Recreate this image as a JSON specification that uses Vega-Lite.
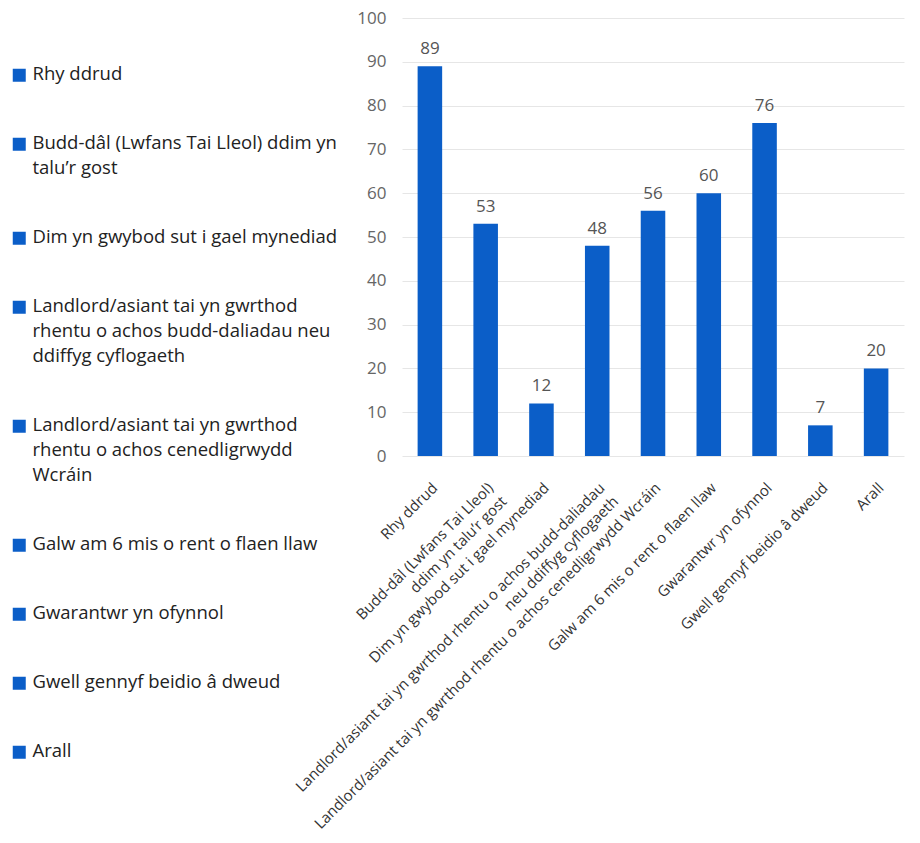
{
  "$schema": "https://vega.github.io/schema/vega-lite/v6.json",
  "width": 502,
  "height": 438,
  "padding": {"left": 10, "top": 9, "right": 10, "bottom": 5},
  "background": "white",
  "config": {
    "view": {"stroke": null},
    "font": "Open Sans"
  },
  "data": {
    "values": [
      {"category": "Rhy ddrud", "value": 89},
      {"category": "Budd-dâl (Lwfans Tai Lleol) ddim yn talu’r gost", "value": 53},
      {"category": "Dim yn gwybod sut i gael mynediad", "value": 12},
      {"category": "Landlord/asiant tai yn gwrthod rhentu o achos budd-daliadau neu ddiffyg cyflogaeth", "value": 48},
      {"category": "Landlord/asiant tai yn gwrthod rhentu o achos cenedligrwydd Wcráin", "value": 56},
      {"category": "Galw am 6 mis o rent o flaen llaw", "value": 60},
      {"category": "Gwarantwr yn ofynnol", "value": 76},
      {"category": "Gwell gennyf beidio â dweud", "value": 7},
      {"category": "Arall", "value": 20}
    ]
  },
  "encoding": {
    "x": {
      "field": "category",
      "type": "nominal",
      "sort": null,
      "scale": {"paddingInner": 0.56, "paddingOuter": 0.28},
      "axis": {
        "title": null,
        "labelAngle": -45,
        "labelFontSize": 15,
        "labelColor": "#333333",
        "labelPadding": 24,
        "labelLimit": 600,
        "ticks": false,
        "domain": false,
        "labelLineHeight": 19,
        "labelExpr": "datum.value == 'Budd-dâl (Lwfans Tai Lleol) ddim yn talu’r gost' ? ['Budd-dâl (Lwfans Tai Lleol)', 'ddim yn talu’r gost'] : datum.value == 'Landlord/asiant tai yn gwrthod rhentu o achos budd-daliadau neu ddiffyg cyflogaeth' ? ['Landlord/asiant tai yn gwrthod rhentu o achos budd-daliadau', 'neu ddiffyg cyflogaeth'] : datum.value"
      }
    },
    "y": {
      "field": "value",
      "type": "quantitative",
      "scale": {"domain": [0, 100]},
      "axis": {
        "title": null,
        "values": [0, 10, 20, 30, 40, 50, 60, 70, 80, 90, 100],
        "labelFontSize": 17,
        "labelColor": "#666666",
        "labelPadding": 16,
        "ticks": false,
        "domain": false,
        "grid": true,
        "gridColor": "#e6e6e6"
      }
    }
  },
  "layer": [
    {
      "mark": {"type": "bar", "color": "#0b5ec8"},
      "encoding": {
        "color": {
          "field": "category",
          "type": "nominal",
          "scale": {
            "domain": [
              "Rhy ddrud",
              "Budd-dâl (Lwfans Tai Lleol) ddim yn talu’r gost",
              "Dim yn gwybod sut i gael mynediad",
              "Landlord/asiant tai yn gwrthod rhentu o achos budd-daliadau neu ddiffyg cyflogaeth",
              "Landlord/asiant tai yn gwrthod rhentu o achos cenedligrwydd Wcráin",
              "Galw am 6 mis o rent o flaen llaw",
              "Gwarantwr yn ofynnol",
              "Gwell gennyf beidio â dweud",
              "Arall"
            ],
            "range": ["#0b5ec8"]
          },
          "legend": {
            "title": null,
            "orient": "none",
            "legendX": -392,
            "legendY": 48,
            "padding": 0,
            "symbolType": "square",
            "symbolSize": 169,
            "symbolStrokeWidth": 0,
            "symbolOpacity": 1,
            "labelFontSize": 18.5,
            "labelColor": "#222222",
            "labelOffset": 4,
            "labelLimit": 400,
            "rowPadding": 50,
            "labelBaseline": "top",
            "labelExpr": "datum.value == 'Budd-dâl (Lwfans Tai Lleol) ddim yn talu’r gost' ? ['Budd-dâl (Lwfans Tai Lleol) ddim yn', 'talu’r gost'] : datum.value == 'Landlord/asiant tai yn gwrthod rhentu o achos budd-daliadau neu ddiffyg cyflogaeth' ? ['Landlord/asiant tai yn gwrthod', 'rhentu o achos budd-daliadau neu', 'ddiffyg cyflogaeth'] : datum.value == 'Landlord/asiant tai yn gwrthod rhentu o achos cenedligrwydd Wcráin' ? ['Landlord/asiant tai yn gwrthod', 'rhentu o achos cenedligrwydd', 'Wcráin'] : datum.value",
            "encode": {
              "labels": {"update": {"lineHeight": {"value": 25}, "dy": {"value": -10}}}
            }
          }
        }
      }
    },
    {
      "mark": {"type": "text", "baseline": "bottom", "dy": -8, "fontSize": 17, "color": "#555555"},
      "encoding": {"text": {"field": "value", "type": "quantitative"}}
    }
  ]
}
